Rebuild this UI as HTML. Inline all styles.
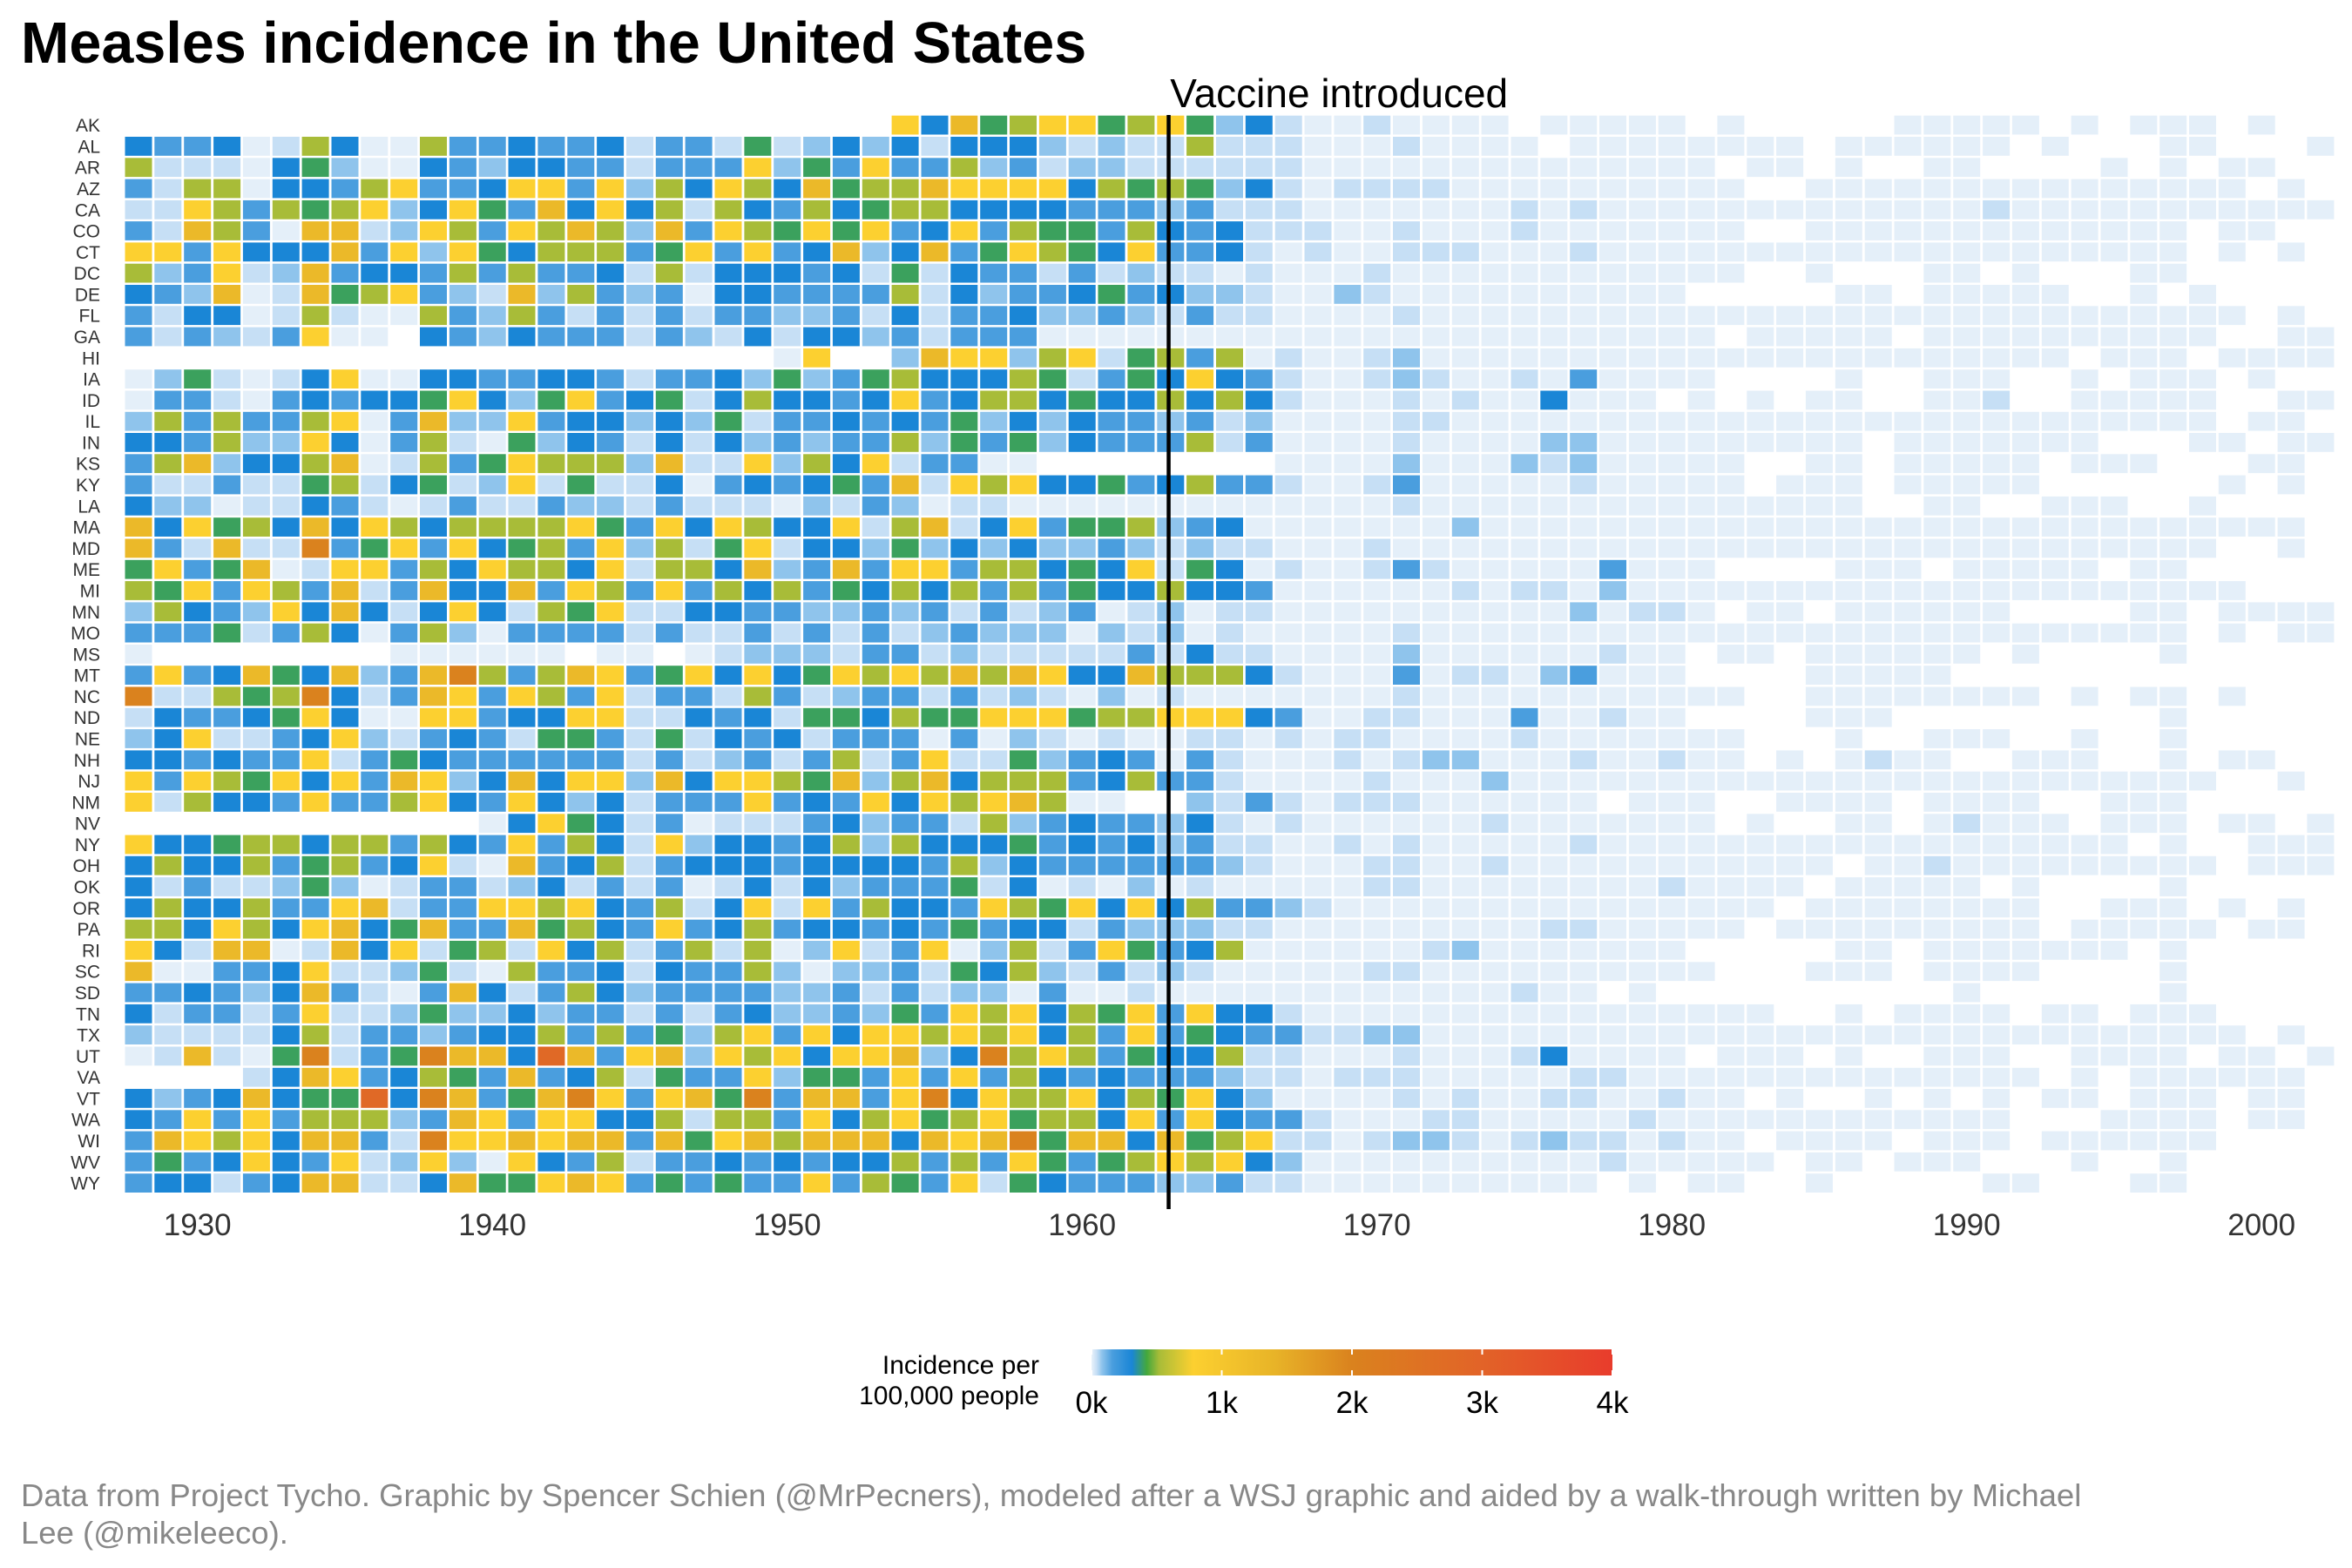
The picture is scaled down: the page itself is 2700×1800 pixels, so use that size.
<!DOCTYPE html>
<html><head><meta charset="utf-8"><title>Measles incidence in the United States</title>
<style>
html,body{margin:0;padding:0;background:#fff;}
svg{display:block;font-family:"Liberation Sans",Arial,sans-serif;}
</style></head>
<body>
<svg id="chart" width="2700" height="1800" viewBox="0 0 2700 1800" xmlns="http://www.w3.org/2000/svg">
<rect x="0" y="0" width="2700" height="1800" fill="#fff"/>
<text x="24" y="72" font-size="66.5" font-weight="bold" fill="#000">Measles incidence in the United States</text>
<g id="cells"></g>
<g id="ylabels"></g>
<g id="xlabels"></g>
<g id="vaccine"></g>
<g id="legend"></g>
<text x="24" y="1729" font-size="36.5" fill="#888">Data from Project Tycho. Graphic by Spencer Schien (@MrPecners), modeled after a WSJ graphic and aided by a walk-through written by Michael</text>
<text x="24" y="1772" font-size="36.5" fill="#888">Lee (@mikeleeco).</text>
</svg>
<script>
// ---- data ----
const states = ["AK","AL","AR","AZ","CA","CO","CT","DC","DE","FL","GA","HI","IA","ID","IL","IN","KS","KY","LA","MA","MD","ME","MI","MN","MO","MS","MT","NC","ND","NE","NH","NJ","NM","NV","NY","OH","OK","OR","PA","RI","SC","SD","TN","TX","UT","VA","VT","WA","WI","WV","WY"];
const firstYear = 1928;
const lastYear = 2002;
const vaccineYear = 1963;
const xTickYears = [1930,1940,1950,1960,1970,1980,1990,2000];
const legendTicks = [0,1000,2000,3000,4000];
const legendTickLabels = ["0k","1k","2k","3k","4k"];
// approximate incidence (per 100,000) for each level code
const levelCodes = ["0","1","2","3","4","5","6","7","8","9","r"];
const levelValues = [5,40,80,160,310,400,520,780,1300,2000,2800];
// one code per year 1928..2002; "." = no data
const rowCodes = [
"....................." + ".....74856775675241" + "0010000.00000.0.....00000.0.000.0..",
"433401640063343341331" + "5124241444212116111" + "00010000.00000000.000000.0...00...0",
"611104520043244331333" + "7253733623122111111" + "00000000000000.00.0..00....0.0.00..",
"316604436733477372647" + "6485668777746565241" + "011110000000000..000000000000000.0.",
"117636567247538474616" + "4364566444433323111" + "00000001010000000000000100000000000",
"318630881276376862837" + "6575734736553643411" + "100100010000000..0000000000000.00..",
"773744483727546663573" + "7348248357654733410" + "100111000100000000000000000000.0.0.",
"623712834436363341614" + "4434151433131211010" + "001000000000000..0...00.0...00.....",
"432801856732182632304" + "4333361423345342210" + "0210000000000.....00.00000..0.0....",
"314401610063263131313" + "3223141334223213110" + "00010000000000000000000000000000.0",
"313213700.43243331321" + "4144231333000000000" + "00000000000000.00000.0000000000..00",
"....................." + ".07..28772671563601" + "00120000000000000000000000.000.0000",
"025101470044334431334" + "2523564446513547431" + "00121001030000....0..000..0.000.0..",
"033103434457425734514" + "6443473466454464641" + "000101004000.0.0.00..001..00000..00",
"263633670382273442425" + "1334343524243323120" + "0001100000000000000000000000000.00.",
"443622740361052431414" + "2323362535243336130" + "0001000022000000000.0000000...00.00",
"368244680163576662811" + "7264713300........0" + "000200021200000..00.00000.000...00.",
"311311561451271511403" + "4345381767445346331" + "001300000100000.000.00000......0.0.",
"422011431013113221311" + "1021320110000000000" + "0001000000000000000..00..000..0....",
"847564847646666753747" + "6447168147355623400" + "0000020000000000000000000000000000.",
"831811935737456372615" + "7144252424223212110" + "0010000000000000000000000000000..0.",
"573580177364766471664" + "8238377366454715401" + "00131000003000....000.00000.00.....",
"657376381384483763736" + "4635464636354464430" + "00000101102000000000000000000000..",
"264327484147416571144" + "3322323131230120110" + "00000000020110.00.000000....00.0000",
"333513640362033331311" + "3131312322202120100" + "000100000000000000000000000000.0.00",
"0........000000.00.01" + "2221331211111314110" + "0002000000100.00.000000.0....0.....",
"373485482389636873574" + "7457676868744866641" + "0003011023000....00000.............",
"911656941387376371331" + "6312331312102010000" + "000100000000000..00000000.0.00.0...",
"143345740077344771143" + "4155465577756677743" + "0011000300100....000.........0.....",
"247113472134315531514" + "3413330302101001101" + "011000010000000...0..000..0..0.....",
"443433713543333331312" + "3136137115234303100" + "010122000100100.0.0100..000..0.00..",
"737657473872484772847" + "7658268466634633100" + "0010002000000000000000000000000..0.",
"716443733674374241333" + "7343747678600..2131" + "0111000000.000..0000.0000..000.....",
"............047541301" + "1134233162343324101" + "00000010000000.0..00.01000.000.00.0",
"744566466364373641724" + "4346264445343423110" + "0101000001000000000000000000.0..000",
"464463563471083461344" + "4344443624333333210" + "001100100000000000.001000000000.000",
"413112520133124131301" + "4142333514010201000" + "00110000000010000.00000.0....0.....",
"464463378133776743614" + "7173644376574746332" + "1000000000000000.00000000..000.0.0.",
"664764784583385643734" + "6344343534413222110" + "000000001100000.000000000.00000.00.",
"741880184715617461361" + "6027137026137534600" + "0000120000000.....00.0000000.0.....",
"800334711251063341433" + "6202231546213121000" + "00110000000000...000.0000....0.....",
"334324831038413642333" + "3223131220300100000" + "0000000100.0..........0......0.....",
"413313711252242331313" + "4223253767465737441" + "0000000000000000..0.0000.00.000....",
"211114613323446363526" + "7374776767463735433" + "11220000000000000000000000000000.0.00",
"01810591359884r837827" + "6747782496763544611" + "0001000140000.000.0..000..0000.00.0",
"....14873465383461533" + "7255373736434333211" + "0111000001100000000000000.0.000000.",
"42348455r498358973785" + "9388379476674657420" + "000101001100100.0..0.0.0.00.000.00.",
"437373666238737744616" + "6374675675664737433" + "100011000001000000000000...0000.00.",
"387674883197787883857" + "8688848789588485671" + "101221012110100.0000.000.000000....",
"353474371272074361334" + "3434463637535676742" + "0000000000100000.00.000...0..0.....",
"344134881148557873535" + "3373653715433322311" + "0000000000.0.00..0.....00...00....."
];
// color scale stops (value -> color)
const scaleValues = [0,40,80,160,310,425,520,780,1400,2000,3000,4000];
const scaleColors = ["#e8f1fa","#c6dff5","#8fc4ec","#4a9ede","#1a86d6","#44a83c","#a8bc38","#fcd030","#e8b428","#da821e","#e26328","#e83c2c"];

// decoded incidence values [state][yearIndex] (null = missing)
const incidence = rowCodes.map(function(s){
  const out = [];
  for (let i = 0; i < lastYear - firstYear + 1; i++) {
    const c = s.charAt(i);
    const k = levelCodes.indexOf(c);
    out.push(k < 0 ? null : levelValues[k]);
  }
  return out;
});

// ---- scales ----
const X0 = 143.5, XSTEP = 33.85, CW = 31;
const Y0 = 132.7, YSTEP = 24.29, CH = 21.8;
function xScale(year){ return X0 + (year - firstYear) * XSTEP; }
function yScale(i){ return Y0 + i * YSTEP; }
function hex(c){ return [parseInt(c.substr(1,2),16),parseInt(c.substr(3,2),16),parseInt(c.substr(5,2),16)]; }
function color(v){
  if (v <= scaleValues[0]) return scaleColors[0];
  for (let i = 1; i < scaleValues.length; i++) {
    if (v <= scaleValues[i]) {
      const t = (v - scaleValues[i-1]) / (scaleValues[i] - scaleValues[i-1]);
      const a = hex(scaleColors[i-1]), b = hex(scaleColors[i]);
      return "rgb(" + [0,1,2].map(function(k){return Math.round(a[k] + (b[k]-a[k])*t);}).join(",") + ")";
    }
  }
  return scaleColors[scaleColors.length-1];
}

const NS = "http://www.w3.org/2000/svg";
function mk(tag, attrs, parent){
  const el = document.createElementNS(NS, tag);
  for (const k in attrs) el.setAttribute(k, attrs[k]);
  parent.appendChild(el);
  return el;
}

// ---- cells ----
const gCells = document.getElementById("cells");
incidence.forEach(function(row, si){
  row.forEach(function(v, yi){
    if (v === null) return;
    const year = firstYear + yi;
    const r = mk("rect", {x: xScale(year).toFixed(1), y: yScale(si).toFixed(1), width: CW, height: CH, fill: color(v)}, gCells);
    
    
  });
});

// ---- y labels ----
const gY = document.getElementById("ylabels");
states.forEach(function(s, si){
  const t = mk("text", {x: 115, y: (yScale(si) + CH/2 + 7.5).toFixed(1), "font-size": 21, "text-anchor": "end", fill: "#333"}, gY);
  t.textContent = s;
  
  
});

// ---- x labels ----
const gX = document.getElementById("xlabels");
xTickYears.forEach(function(yr){
  const t = mk("text", {x: (xScale(yr) + CW/2).toFixed(1), y: 1418, "font-size": 35, "text-anchor": "middle", fill: "#333"}, gX);
  t.textContent = yr;
  
  
});

// ---- vaccine line ----
const gV = document.getElementById("vaccine");
const vx = xScale(vaccineYear) + 13;
const vl = mk("rect", {x: (vx - 2).toFixed(1), y: 132, width: 4.5, height: 1256, fill: "#000"}, gV);


const vt = mk("text", {x: (vx + 2).toFixed(1), y: 123, "font-size": 46, fill: "#000"}, gV);
vt.textContent = "Vaccine introduced";



// ---- legend ----
const gL = document.getElementById("legend");
const LX0 = 1253, LX1 = 1851, LY = 1549, LH = 30;
function lScale(v){ return LX0 + (v / 4000) * (LX1 - LX0); }
const defs = mk("defs", {}, gL);
const grad = mk("linearGradient", {id: "lg", x1: "0", x2: "1", y1: "0", y2: "0"}, defs);
scaleValues.forEach(function(v, i){
  mk("stop", {offset: (v/4000).toFixed(4), "stop-color": scaleColors[i]}, grad);
});
const bar = mk("rect", {x: LX0, y: LY, width: LX1 - LX0, height: LH, fill: "url(#lg)"}, gL);


legendTicks.forEach(function(v, i){
  const x = lScale(v);
  mk("line", {x1: x, x2: x, y1: LY, y2: LY + 6, stroke: "#fff", "stroke-width": 2}, gL);
  mk("line", {x1: x, x2: x, y1: LY + LH - 6, y2: LY + LH, stroke: "#fff", "stroke-width": 2}, gL);
  const t = mk("text", {x: x.toFixed(1), y: 1622, "font-size": 35, "text-anchor": "middle", fill: "#000"}, gL);
  t.textContent = legendTickLabels[i];
  
  
});
const lt1 = mk("text", {x: 1193, y: 1577, "font-size": 30, "text-anchor": "end", fill: "#000"}, gL);
lt1.textContent = "Incidence per";


const lt2 = mk("text", {x: 1193, y: 1612, "font-size": 30, "text-anchor": "end", fill: "#000"}, gL);
lt2.textContent = "100,000 people";


</script>
</body></html>
